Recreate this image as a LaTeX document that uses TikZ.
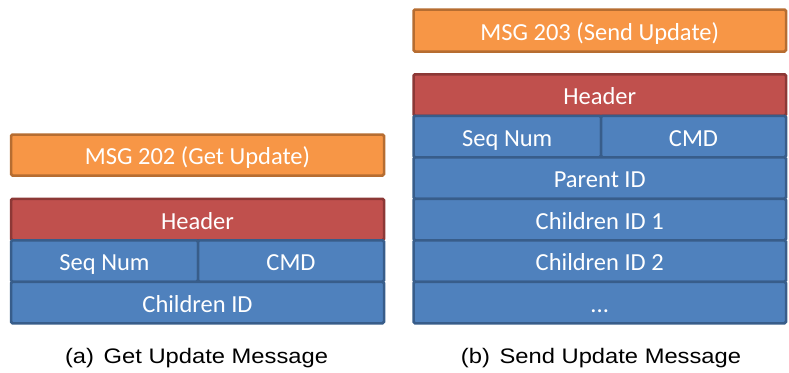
\documentclass[tikz,border=0pt]{standalone}
\usepackage{fontspec}
\setmainfont{Carlito}
\newfontfamily\capfont[FakeStretch=1.13]{Liberation Sans}
\definecolor{msgfill}{HTML}{F79646}
\definecolor{msgline}{HTML}{B66D31}
\definecolor{hdrfill}{HTML}{C0504D}
\definecolor{hdrline}{HTML}{8C3836}
\definecolor{fldfill}{HTML}{4F81BD}
\definecolor{fldline}{HTML}{385D8A}
\begin{document}
\begin{tikzpicture}[x=1pt, y=-1pt,
  cell/.style={rectangle, rounded corners=1.5pt, line width=2.5pt, text=white, inner sep=0pt,
    minimum height=41.5pt, text height=19pt, text depth=0pt, font=\fontsize{24.5}{29}\selectfont},
  msgbox/.style={cell, draw=msgline, fill=msgfill},
  hdrbox/.style={cell, draw=hdrline, fill=hdrfill},
  fldbox/.style={cell, draw=fldline, fill=fldfill},
  caption/.style={anchor=base, inner sep=0pt, font=\capfont\fontsize{21}{25}\selectfont}]
\useasboundingbox (0,0) rectangle (789,372);
% (a) get update
\node[msgbox, minimum width=373pt, minimum height=41pt] (gmsg) at (197.5,155){MSG 202 (Get Update)};
\node[hdrbox, minimum width=373pt] (ghdr) at (197.5,219.5){Header};
\node[fldbox, minimum width=187pt] (gseq) at (104.5,261){Seq Num};
\node[fldbox, minimum width=186pt] (gcmd) at (291,261){CMD};
\node[fldbox, minimum width=373pt] (gcid) at (197.5,302.5){Children ID};
\node[caption] (gcap) at (196.5,363){(a)\hspace{0.15em} Get Update Message};
% (b) send update
\node[msgbox, minimum width=372.5pt, minimum height=42pt] (smsg) at (599.75,30.5){MSG 203 (Send Update)};
\node[hdrbox, minimum width=372.5pt] (shdr) at (599.75,95){Header};
\node[fldbox, minimum width=187.5pt] (sseq) at (507.25,136.5){Seq Num};
\node[fldbox, minimum width=185pt] (scmd) at (693.5,136.5){CMD};
\node[fldbox, minimum width=372.5pt] (spid) at (599.75,178){Parent ID};
\node[fldbox, minimum width=372.5pt] (scid1) at (599.75,219.5){Children ID 1};
\node[fldbox, minimum width=372.5pt] (scid2) at (599.75,261){Children ID 2};
\node[fldbox, minimum width=372.5pt] (sdots) at (599.75,302.5){...};
\node[caption] (scap) at (601,363){(b)\hspace{0.15em} Send Update Message};
\end{tikzpicture}
\end{document}
